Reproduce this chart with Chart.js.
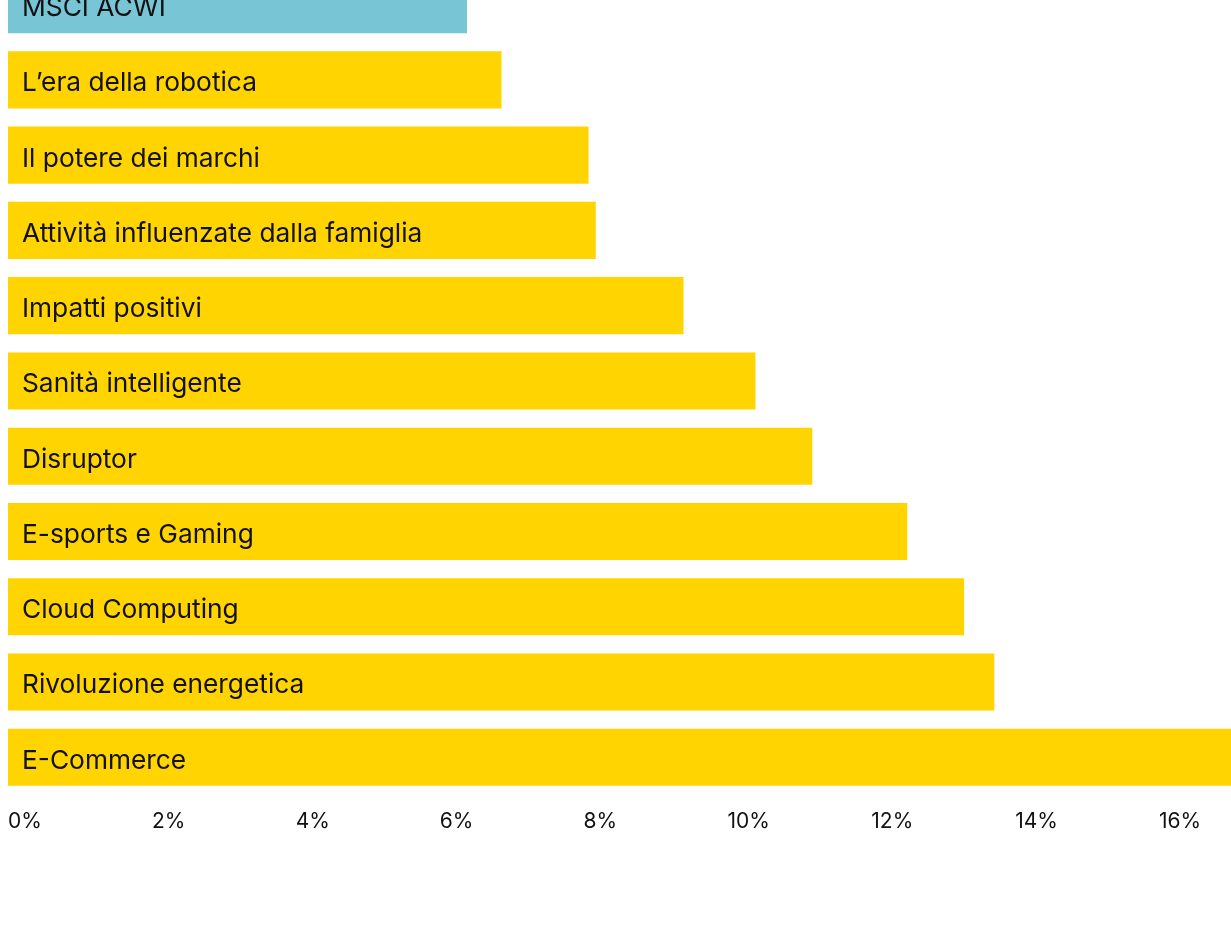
<!DOCTYPE html>
<html>
<head>
<meta charset="utf-8">
<script src="https://cdn.jsdelivr.net/npm/chart.js@4/dist/chart.umd.min.js"></script>
<style>
  html, body { margin: 0; padding: 0; background: #fff; overflow: hidden; width: 1231px; height: 945px; }
  #wrap { position: absolute; left: 0; top: -33px; width: 1231px; height: 881px; }
</style>
</head>
<body>
<div id="wrap"><canvas id="c"></canvas></div>
<script>
const categories = [
  "MSCI ACWI",
  "L\u2019era della robotica",
  "Il potere dei marchi",
  "Attività influenzate dalla famiglia",
  "Impatti positivi",
  "Sanità intelligente",
  "Disruptor",
  "E-sports e Gaming",
  "Cloud Computing",
  "Rivoluzione energetica",
  "E-Commerce"
];
const values = [6.38, 6.86, 8.07, 8.17, 9.39, 10.39, 11.18, 12.5, 13.29, 13.71, 17];
const tickValues = [0, 2, 4, 6, 8, 10, 12, 14, 16];
const barColors = ["#78C5D6", "#FFD400", "#FFD400", "#FFD400", "#FFD400", "#FFD400", "#FFD400", "#FFD400", "#FFD400", "#FFD400", "#FFD400"];

const inBarLabels = {
  id: 'inBarLabels',
  afterDatasetsDraw(chart) {
    const ctx = chart.ctx;
    const y = chart.scales.y;
    const x = chart.scales.x;
    ctx.save();
    ctx.fillStyle = '#111';
    ctx.font = '26.3px Inter';
    ctx.textAlign = 'left';
    ctx.textBaseline = 'middle';
    chart.data.labels.forEach((lab, i) => {
      ctx.fillText(lab, x.getPixelForValue(0) + 14, y.getPixelForTick(i) + 3.5);
    });
    ctx.restore();
  }
};

new Chart(document.getElementById('c'), {
  type: 'bar',
  data: {
    labels: categories,
    datasets: [{
      data: values,
      backgroundColor: barColors,
      borderWidth: 0,
      barPercentage: 1,
      categoryPercentage: 0.758
    }]
  },
  plugins: [inBarLabels],
  options: {
    indexAxis: 'y',
    responsive: true,
    maintainAspectRatio: false,
    animation: false,
    layout: { padding: { left: 8, right: 0, top: 0, bottom: 0 } },
    plugins: { legend: { display: false }, tooltip: { enabled: false } },
    scales: {
      x: {
        min: 0,
        max: 17,
        grid: { display: false, drawTicks: false },
        border: { display: false },
        afterBuildTicks: (scale) => { scale.ticks = tickValues.map(v => ({ value: v })); },
        afterFit: (scale) => { scale.paddingLeft = 0; scale.paddingRight = 0; },
        ticks: {
          align: 'start',
          padding: 14,
          color: '#111',
          font: { family: 'Inter', size: 21 },
          callback: (v) => v + '%'
        }
      },
      y: {
        display: false
      }
    }
  }
});
</script>
</body>
</html>
